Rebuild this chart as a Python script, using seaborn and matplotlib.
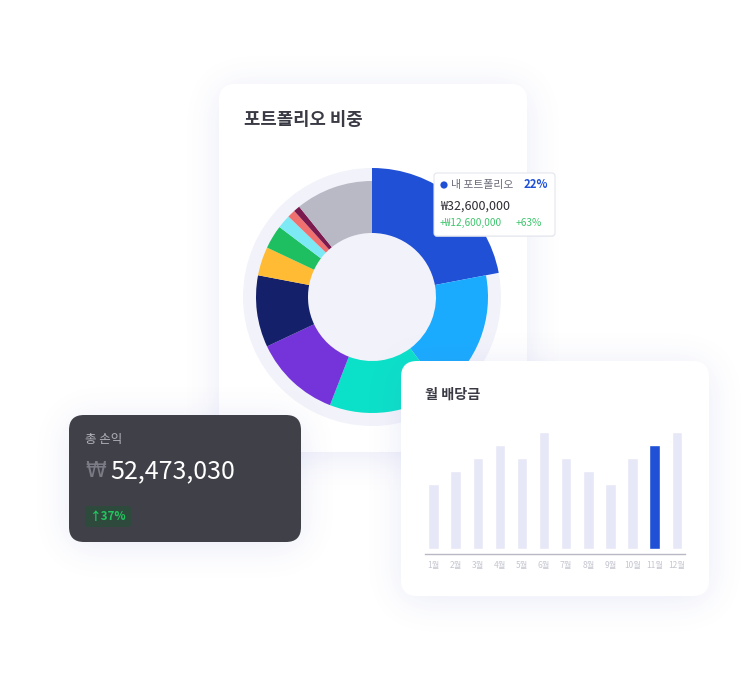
import numpy as np
import pandas as pd
import matplotlib
matplotlib.use('Agg')
import matplotlib.pyplot as plt
from matplotlib.patches import FancyBboxPatch, Circle
import seaborn as sns

# portfolio share (%), clockwise from 12 o'clock
share = [22.0, 17.8, 16.1, 12.1, 10.0, 4.0, 3.3, 1.9, 1.1, 0.9, 10.8]
share_colors = ['#1f50d6', '#1aabff', '#0be0c8', '#7534d9', '#14206a', '#ffbb33',
                '#1dbf60', '#7de9f5', '#f07070', '#7a1a4f', '#b8b9c5']

# monthly dividends
months = ['1월', '2월', '3월', '4월', '5월', '6월', '7월', '8월', '9월', '10월', '11월', '12월']
dividends = [50, 60, 70, 80, 70, 90, 70, 60, 50, 70, 80, 90]
highlight = '11월'

total_pl = '52,473,030'
total_pct = '37%'
tip_name = '내 포트폴리오'
tip_pct = '22%'
tip_value = '₩32,600,000'
tip_gain = '+₩12,600,000'
tip_gain_pct = '+63%'

sns.set_theme(style='white')
plt.rcParams['font.family'] = ['Noto Sans CJK KR', 'DejaVu Sans']

W, H = 741, 681
fig = plt.figure(figsize=(W / 100, H / 100), dpi=100)
fig.patch.set_facecolor('white')


def px_axes(x0, y0, x1, y1, z):
    a = fig.add_axes([x0 / W, 1 - y1 / H, (x1 - x0) / W, (y1 - y0) / H])
    a.set_zorder(z)
    a.patch.set_alpha(0)
    return a


def card_mask(x0, y0, x1, y1, r):
    yy, xx = np.mgrid[0:H, 0:W] + 0.5
    cx = np.clip(xx, x0 + r, x1 - r)
    cy = np.clip(yy, y0 + r, y1 - r)
    return ((xx - cx) ** 2 + (yy - cy) ** 2 <= r * r).astype(float)


def blur(a, s):
    k = np.arange(-3 * s, 3 * s + 1)
    g = np.exp(-k ** 2 / (2.0 * s * s))
    g /= g.sum()
    a = np.apply_along_axis(lambda v: np.convolve(v, g, mode='same'), 0, a)
    a = np.apply_along_axis(lambda v: np.convolve(v, g, mode='same'), 1, a)
    return a


def shadow_img(mask, alpha=0.14):
    b = blur(mask, 17)
    img = np.zeros((H, W, 4))
    img[..., 0] = 100 / 255
    img[..., 1] = 112 / 255
    img[..., 2] = 205 / 255
    img[..., 3] = np.clip(b * alpha, 0, 1)
    return img


def card(ax, x0, y0, x1, y1, color, r=16):
    ax.add_patch(FancyBboxPatch((x0, y0), x1 - x0, y1 - y0,
                                boxstyle='round,pad=0,rounding_size=%d' % r,
                                fc=color, ec='none'))


# background layer: portfolio card
ax_bg = px_axes(0, 0, W, H, 0)
ax_bg.set_xlim(0, W)
ax_bg.set_ylim(H, 0)
ax_bg.axis('off')
ax_bg.imshow(shadow_img(card_mask(219, 88, 527, 458, 16)), extent=(0, W, H, 0),
             interpolation='bilinear', aspect='auto')
card(ax_bg, 219, 84, 527, 452, 'white')
ax_bg.text(244, 120, '포트폴리오 비중', fontsize=12.8, fontweight='bold',
           color='#3a3a45', va='center', ha='left')

# donut
ax_pie = px_axes(232, 157, 512, 437, 1)
ax_pie.add_patch(Circle((0, 0), 129, fc='#f2f3fa', ec='none'))
wedges, _ = ax_pie.pie(share, colors=share_colors, startangle=90, counterclock=False,
                       radius=116, wedgeprops=dict(width=52, linewidth=0))
wedges[0].set_radius(129)
wedges[0].set_width(65)
ax_pie.set_xlim(-140, 140)
ax_pie.set_ylim(-140, 140)
ax_pie.set_aspect('auto')
ax_pie.axis('off')

# top layer: tooltip, P&L card, dividend card
ax_top = px_axes(0, 0, W, H, 2)
ax_top.set_xlim(0, W)
ax_top.set_ylim(H, 0)
ax_top.axis('off')

# tooltip
ax_top.add_patch(FancyBboxPatch((434, 174), 121, 63, boxstyle='round,pad=0,rounding_size=3',
                                fc='#e9ebf3', ec='none', alpha=0.6))
ax_top.add_patch(FancyBboxPatch((434, 173), 121, 63, boxstyle='round,pad=0,rounding_size=3',
                                fc='white', ec='#e4e6ee', lw=0.8))
ax_top.add_patch(Circle((444, 185), 3.6, fc='#1f50d6', ec='none'))
ax_top.text(451, 185, tip_name, fontsize=7.8, color='#6b6c78', va='center', ha='left')
ax_top.text(548, 185, tip_pct, fontsize=8.2, color='#1f50d6', va='center', ha='right',
            fontweight='bold')
ax_top.text(440, 206, tip_value, fontsize=9, color='#2c2c35', va='center', ha='left')
ax_top.text(440, 223, tip_gain, fontsize=7.3, color='#3ec46d', va='center', ha='left')
ax_top.text(516, 223, tip_gain_pct, fontsize=7.3, color='#3ec46d', va='center', ha='left')

# shadows for front cards
m = card_mask(69, 419, 301, 546, 15) + card_mask(401, 365, 709, 600, 16)
ax_top.imshow(shadow_img(np.clip(m, 0, 1)), extent=(0, W, H, 0),
              interpolation='bilinear', aspect='auto')

# P&L card
card(ax_top, 69, 415, 301, 542, '#404049', r=15)
ax_top.text(85, 440, '총 손익', fontsize=9, color='#b3b3bc', va='center', ha='left')
ax_top.text(85, 471, '₩', fontsize=15, color='#7b7b86', va='center', ha='left',
            family='DejaVu Sans')
ax_top.text(110, 471, total_pl, fontsize=18, color='white', va='center', ha='left')
ax_top.add_patch(FancyBboxPatch((85, 506), 46, 21, boxstyle='round,pad=0,rounding_size=3',
                                fc='#2e4a3d', ec='none'))
ax_top.text(108, 516.5, '↑' + total_pct, fontsize=8.4, color='#22c55e', va='center',
            ha='center', fontweight='bold')

# dividend card
card(ax_top, 401, 361, 709, 596, 'white')
ax_top.text(425, 395, '월 배당금', fontsize=10.2, fontweight='bold', color='#3a3a45',
            va='center', ha='left')

df = pd.DataFrame({'month': months, 'dividend': dividends})
bar_colors = ['#1f50d6' if mo == highlight else '#e7e8f7' for mo in months]

ax_bar = px_axes(425, 420, 685, 554, 3)
sns.barplot(data=df, x='month', y='dividend', hue='month', palette=bar_colors,
            legend=False, width=0.47, saturation=1, ax=ax_bar)
ax_bar.set_xlim(-0.384, 11.37)
ax_bar.set_ylim(-3.85, (554 - 420) / 1.3 - 3.85)
for s in ['top', 'right', 'left']:
    ax_bar.spines[s].set_visible(False)
ax_bar.spines['bottom'].set_color('#b8b9c5')
ax_bar.spines['bottom'].set_linewidth(1)
ax_bar.set_yticks([])
ax_bar.tick_params(axis='x', length=0, pad=5, labelsize=6, labelcolor='#c5c6d0')
ax_bar.set_xlabel('')
ax_bar.set_ylabel('')

fig.savefig('out.png', dpi=100)
